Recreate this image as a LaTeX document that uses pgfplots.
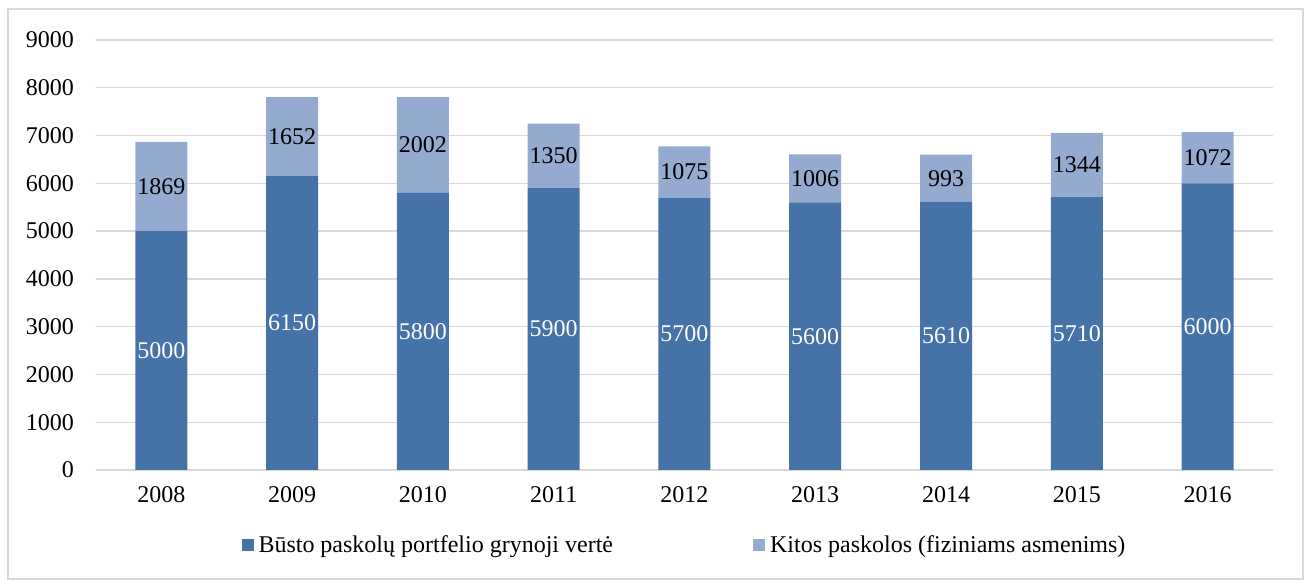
\documentclass[border=0pt]{standalone}
\usepackage{fontspec}
\setmainfont{Liberation Serif}
\usepackage{pgfplots}
\pgfplotsset{compat=1.18}
\definecolor{darkb}{RGB}{69,115,168}
\definecolor{lightb}{RGB}{149,170,207}
\definecolor{gridc}{RGB}{217,217,217}
\begin{document}
\begin{tikzpicture}[x=1pt,y=1pt,font=\fontsize{24}{28}\selectfont]
\useasboundingbox (-96,-110) rectangle (1209,470);
\draw[gridc, line width=1.5pt] (-88,-109) rectangle (1207,461);
\begin{axis}[
  at={(0,0)}, anchor=south west,
  scale only axis, width=1177pt, height=430pt,
  ybar stacked, bar width=52pt,
  xmin=-0.5, xmax=8.5, ymin=0, ymax=9000,
  xtick={0,1,2,3,4,5,6,7,8},
  xticklabels={2008,2009,2010,2011,2012,2013,2014,2015,2016},
  ytick={0,1000,2000,3000,4000,5000,6000,7000,8000,9000},
  ymajorgrids, grid style={gridc, line width=1.3pt},
  axis line style={draw=none},
  tick style={draw=none},
  /pgf/number format/assume math mode=true,
  /pgf/number format/1000 sep={},
  yticklabel style={inner sep=0pt, xshift=-22pt},
  xticklabel style={inner sep=0pt, yshift=-16pt},
  legend columns=2,
  legend style={draw=none, at={(0.5,0)}, anchor=center, yshift=-75pt,
    /tikz/every even column/.append style={column sep=138pt},
    /tikz/every odd column/.append style={column sep=3pt},
    font=\fontsize{24}{28}\selectfont},
  legend image code/.code={\fill[#1] (0pt,-6pt) rectangle (12pt,6pt);},
]
\addplot[fill=darkb, draw=none] coordinates {(0,5000) (1,6150) (2,5800) (3,5900) (4,5700) (5,5600) (6,5610) (7,5710) (8,6000)};
\addlegendentry{Būsto paskolų portfelio grynoji vertė}
\addplot[fill=lightb, draw=none] coordinates {(0,1869) (1,1652) (2,2002) (3,1350) (4,1075) (5,1006) (6,993) (7,1344) (8,1072)};
\addlegendentry{Kitos paskolos (fiziniams asmenims)}
\end{axis}
\begin{axis}[
  at={(0,0)}, anchor=south west,
  scale only axis, width=1177pt, height=430pt,
  xmin=-0.5, xmax=8.5, ymin=0, ymax=9000,
  hide axis,
  nodes near coords, point meta=explicit symbolic,
  nodes near coords align=center,
  every node near coord/.append style={anchor=center, inner sep=0pt, font=\fontsize{24}{28}\selectfont},
]
\addplot[draw=none, mark=none, nodes near coords style={text=white}] table[meta=l] {
x y l
0 2500 5000
1 3075 6150
2 2900 5800
3 2950 5900
4 2850 5700
5 2800 5600
6 2805 5610
7 2855 5710
8 3000 6000
};
\addplot[draw=none, mark=none, nodes near coords style={text=black}] table[meta=l] {
x y l
0 5934.5 1869
1 6976 1652
2 6801 2002
3 6575 1350
4 6237.5 1075
5 6103 1006
6 6106.5 993
7 6382 1344
8 6536 1072
};
\end{axis}
\end{tikzpicture}
\end{document}
